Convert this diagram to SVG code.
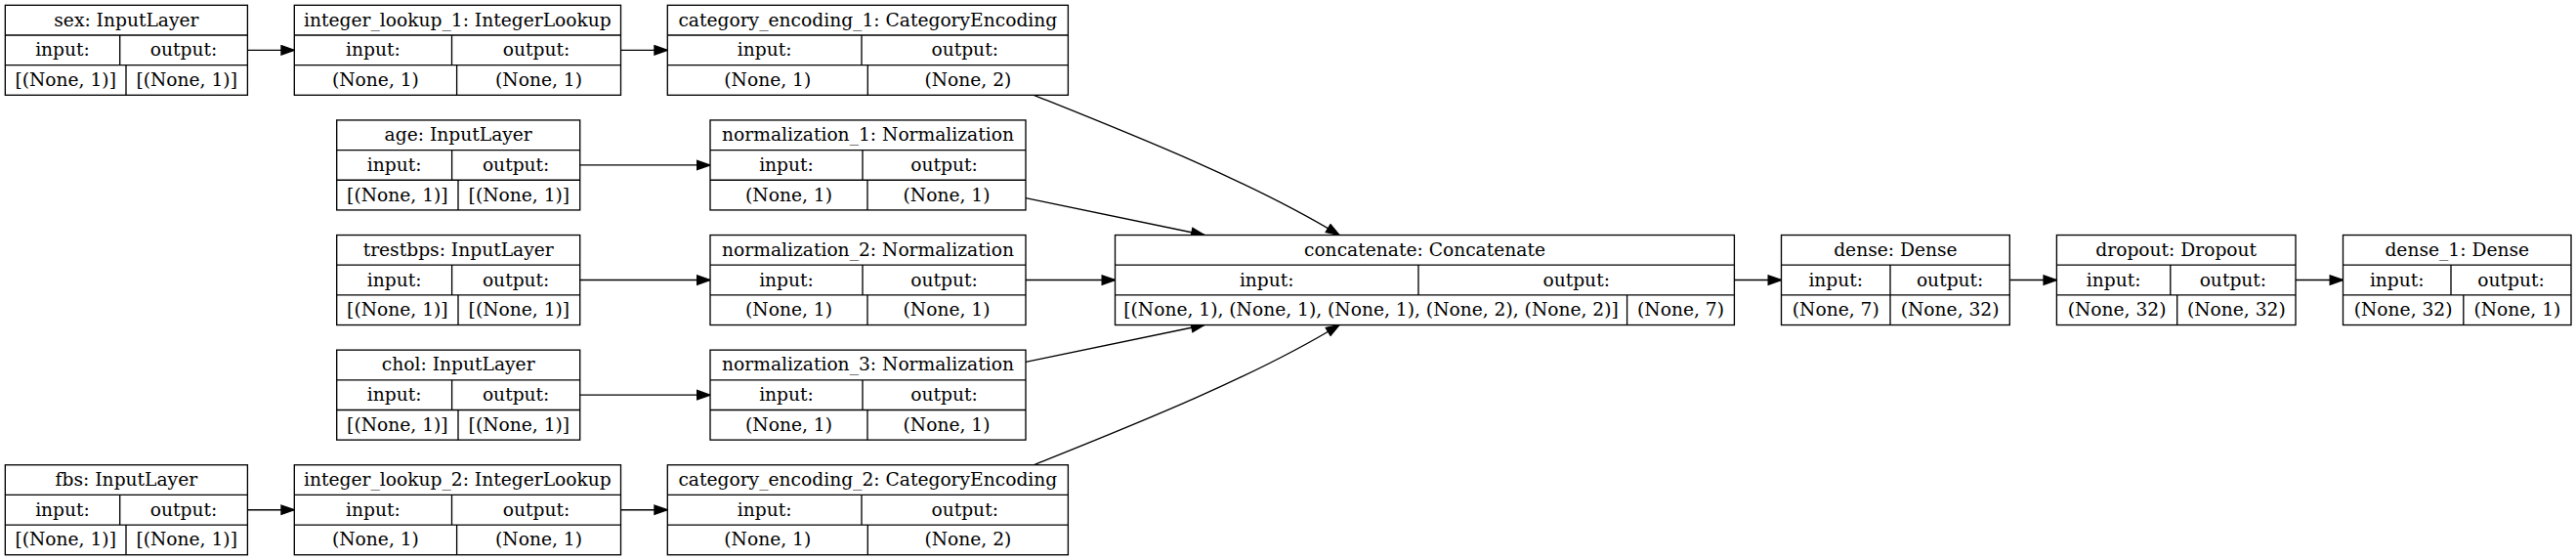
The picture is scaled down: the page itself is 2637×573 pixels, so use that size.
<svg xmlns="http://www.w3.org/2000/svg" width="2637" height="573" viewBox="0 0 2637 573">
<style>
.bg{fill:#fff}
.box{fill:#fff;stroke:#000;stroke-width:1.33}
.ln{stroke:#000;stroke-width:1.33;fill:none}
.t{font-family:"DejaVu Serif",serif;font-size:18.67px;text-anchor:middle;fill:#000}
.e{stroke:#000;stroke-width:1.33;fill:none;marker-end:url(#arr)}
</style>
<defs>
<marker id="arr" markerUnits="userSpaceOnUse" markerWidth="16" markerHeight="12" refX="13.33" refY="4.67" orient="auto" viewBox="-1 -1 16 12">
<path d="M0,0 L13.33,4.67 L0,9.33 z" fill="#000" stroke="#000" stroke-width="1.33"/>
</marker>
</defs>
<rect class="bg" x="0" y="0" width="2637" height="573"/>

<g id="connectors">
<path class="e" d="M253.4,51.33 H301.3"/>
<path class="e" d="M635.5,51.33 H683.3"/>
<path class="e" d="M593.7,168.93 H727"/>
<path class="e" d="M593.7,286.53 H727"/>
<path class="e" d="M593.7,404.13 H727"/>
<path class="e" d="M253.4,521.73 H301.3"/>
<path class="e" d="M635.5,521.73 H683.3"/>
<path class="e" d="M1050,286.53 H1141.5"/>
<path class="e" d="M1775.4,286.53 H1823.5"/>
<path class="e" d="M2057.3,286.53 H2105.4"/>
<path class="e" d="M2350,286.53 H2398.5"/>
<path class="e" d="M1058.3,97.3 C1150,134 1280,185 1371,240.5"/>
<path class="e" d="M1050,202.7 L1233,240.5"/>
<path class="e" d="M1050,370.4 L1233,332.5"/>
<path class="e" d="M1058.3,475.8 C1150,439 1280,388 1371,332.5"/>
</g>

<g id="sex">
<rect class="box" x="5.33" y="5.33" width="248.07" height="92"/>
<path class="ln" d="M5.33,36 H253.4 M5.33,66.67 H253.4 M122.7,36 V66.67 M129,66.67 V97.33"/>
<text class="t" x="129.37" y="26.6">sex: InputLayer</text>
<text class="t" x="64" y="57.3">input:</text>
<text class="t" x="188.05" y="57.3">output:</text>
<text class="t" x="67.2" y="88">[(None, 1)]</text>
<text class="t" x="191.2" y="88">[(None, 1)]</text>
</g>

<g id="integer_lookup_1">
<rect class="box" x="301.3" y="5.33" width="334.2" height="92"/>
<path class="ln" d="M301.3,36 H635.5 M301.3,66.67 H635.5 M462.5,36 V66.67 M467.6,66.67 V97.33"/>
<text class="t" x="468.4" y="26.6">integer_lookup_1: IntegerLookup</text>
<text class="t" x="381.9" y="57.3">input:</text>
<text class="t" x="549" y="57.3">output:</text>
<text class="t" x="384.45" y="88">(None, 1)</text>
<text class="t" x="551.55" y="88">(None, 1)</text>
</g>

<g id="category_encoding_1">
<rect class="box" x="683.3" y="5.33" width="410.1" height="92"/>
<path class="ln" d="M683.3,36 H1093.4 M683.3,66.67 H1093.4 M882,36 V66.67 M888.3,66.67 V97.33"/>
<text class="t" x="888.35" y="26.6">category_encoding_1: CategoryEncoding</text>
<text class="t" x="782.65" y="57.3">input:</text>
<text class="t" x="987.7" y="57.3">output:</text>
<text class="t" x="785.8" y="88">(None, 1)</text>
<text class="t" x="990.85" y="88">(None, 2)</text>
</g>

<g id="age">
<rect class="box" x="344.7" y="122.93" width="249" height="92"/>
<path class="ln" d="M344.7,153.6 H593.7 M344.7,184.27 H593.7 M462.6,153.6 V184.27 M469,184.27 V214.93"/>
<text class="t" x="469.2" y="144.2">age: InputLayer</text>
<text class="t" x="403.65" y="174.9">input:</text>
<text class="t" x="528.15" y="174.9">output:</text>
<text class="t" x="406.85" y="205.6">[(None, 1)]</text>
<text class="t" x="531.35" y="205.6">[(None, 1)]</text>
</g>

<g id="normalization_1">
<rect class="box" x="727" y="122.93" width="323" height="92"/>
<path class="ln" d="M727,153.6 H1050 M727,184.27 H1050 M883,153.6 V184.27 M888,184.27 V214.93"/>
<text class="t" x="888.5" y="144.2">normalization_1: Normalization</text>
<text class="t" x="805" y="174.9">input:</text>
<text class="t" x="966.5" y="174.9">output:</text>
<text class="t" x="807.5" y="205.6">(None, 1)</text>
<text class="t" x="969" y="205.6">(None, 1)</text>
</g>

<g id="trestbps">
<rect class="box" x="344.7" y="240.53" width="249" height="92"/>
<path class="ln" d="M344.7,271.2 H593.7 M344.7,301.87 H593.7 M462.6,271.2 V301.87 M469,301.87 V332.53"/>
<text class="t" x="469.2" y="261.8">trestbps: InputLayer</text>
<text class="t" x="403.65" y="292.5">input:</text>
<text class="t" x="528.15" y="292.5">output:</text>
<text class="t" x="406.85" y="323.2">[(None, 1)]</text>
<text class="t" x="531.35" y="323.2">[(None, 1)]</text>
</g>

<g id="normalization_2">
<rect class="box" x="727" y="240.53" width="323" height="92"/>
<path class="ln" d="M727,271.2 H1050 M727,301.87 H1050 M883,271.2 V301.87 M888,301.87 V332.53"/>
<text class="t" x="888.5" y="261.8">normalization_2: Normalization</text>
<text class="t" x="805" y="292.5">input:</text>
<text class="t" x="966.5" y="292.5">output:</text>
<text class="t" x="807.5" y="323.2">(None, 1)</text>
<text class="t" x="969" y="323.2">(None, 1)</text>
</g>

<g id="chol">
<rect class="box" x="344.7" y="358.13" width="249" height="92"/>
<path class="ln" d="M344.7,388.8 H593.7 M344.7,419.47 H593.7 M462.6,388.8 V419.47 M469,419.47 V450.13"/>
<text class="t" x="469.2" y="379.4">chol: InputLayer</text>
<text class="t" x="403.65" y="410.1">input:</text>
<text class="t" x="528.15" y="410.1">output:</text>
<text class="t" x="406.85" y="440.8">[(None, 1)]</text>
<text class="t" x="531.35" y="440.8">[(None, 1)]</text>
</g>

<g id="normalization_3">
<rect class="box" x="727" y="358.13" width="323" height="92"/>
<path class="ln" d="M727,388.8 H1050 M727,419.47 H1050 M883,388.8 V419.47 M888,419.47 V450.13"/>
<text class="t" x="888.5" y="379.4">normalization_3: Normalization</text>
<text class="t" x="805" y="410.1">input:</text>
<text class="t" x="966.5" y="410.1">output:</text>
<text class="t" x="807.5" y="440.8">(None, 1)</text>
<text class="t" x="969" y="440.8">(None, 1)</text>
</g>

<g id="fbs">
<rect class="box" x="5.33" y="475.73" width="248.07" height="92"/>
<path class="ln" d="M5.33,506.4 H253.4 M5.33,537.07 H253.4 M122.7,506.4 V537.07 M129,537.07 V567.73"/>
<text class="t" x="129.37" y="497">fbs: InputLayer</text>
<text class="t" x="64" y="527.7">input:</text>
<text class="t" x="188.05" y="527.7">output:</text>
<text class="t" x="67.2" y="558.4">[(None, 1)]</text>
<text class="t" x="191.2" y="558.4">[(None, 1)]</text>
</g>

<g id="integer_lookup_2">
<rect class="box" x="301.3" y="475.73" width="334.2" height="92"/>
<path class="ln" d="M301.3,506.4 H635.5 M301.3,537.07 H635.5 M462.5,506.4 V537.07 M467.6,537.07 V567.73"/>
<text class="t" x="468.4" y="497">integer_lookup_2: IntegerLookup</text>
<text class="t" x="381.9" y="527.7">input:</text>
<text class="t" x="549" y="527.7">output:</text>
<text class="t" x="384.45" y="558.4">(None, 1)</text>
<text class="t" x="551.55" y="558.4">(None, 1)</text>
</g>

<g id="category_encoding_2">
<rect class="box" x="683.3" y="475.73" width="410.1" height="92"/>
<path class="ln" d="M683.3,506.4 H1093.4 M683.3,537.07 H1093.4 M882,506.4 V537.07 M888.3,537.07 V567.73"/>
<text class="t" x="888.35" y="497">category_encoding_2: CategoryEncoding</text>
<text class="t" x="782.65" y="527.7">input:</text>
<text class="t" x="987.7" y="527.7">output:</text>
<text class="t" x="785.8" y="558.4">(None, 1)</text>
<text class="t" x="990.85" y="558.4">(None, 2)</text>
</g>

<g id="concatenate">
<rect class="box" x="1141.5" y="240.53" width="633.9" height="92"/>
<path class="ln" d="M1141.5,271.2 H1775.4 M1141.5,301.87 H1775.4 M1452,271.2 V301.87 M1665.6,301.87 V332.53"/>
<text class="t" x="1458.45" y="261.8">concatenate: Concatenate</text>
<text class="t" x="1296.75" y="292.5">input:</text>
<text class="t" x="1613.7" y="292.5">output:</text>
<text class="t" x="1403.55" y="323.2">[(None, 1), (None, 1), (None, 1), (None, 2), (None, 2)]</text>
<text class="t" x="1720.5" y="323.2">(None, 7)</text>
</g>

<g id="dense">
<rect class="box" x="1823.5" y="240.53" width="233.8" height="92"/>
<path class="ln" d="M1823.5,271.2 H2057.3 M1823.5,301.87 H2057.3 M1935,271.2 V332.53"/>
<text class="t" x="1940.4" y="261.8">dense: Dense</text>
<text class="t" x="1879.25" y="292.5">input:</text>
<text class="t" x="1996.15" y="292.5">output:</text>
<text class="t" x="1879.25" y="323.2">(None, 7)</text>
<text class="t" x="1996.15" y="323.2">(None, 32)</text>
</g>

<g id="dropout">
<rect class="box" x="2105.4" y="240.53" width="244.6" height="92"/>
<path class="ln" d="M2105.4,271.2 H2350 M2105.4,301.87 H2350 M2221.8,271.2 V301.87 M2228.7,301.87 V332.53"/>
<text class="t" x="2227.7" y="261.8">dropout: Dropout</text>
<text class="t" x="2163.6" y="292.5">input:</text>
<text class="t" x="2285.9" y="292.5">output:</text>
<text class="t" x="2167.05" y="323.2">(None, 32)</text>
<text class="t" x="2289.35" y="323.2">(None, 32)</text>
</g>

<g id="dense_1">
<rect class="box" x="2398.5" y="240.53" width="233.5" height="92"/>
<path class="ln" d="M2398.5,271.2 H2632 M2398.5,301.87 H2632 M2509,271.2 V301.87 M2521.8,301.87 V332.53"/>
<text class="t" x="2515.25" y="261.8">dense_1: Dense</text>
<text class="t" x="2453.75" y="292.5">input:</text>
<text class="t" x="2570.5" y="292.5">output:</text>
<text class="t" x="2460.15" y="323.2">(None, 32)</text>
<text class="t" x="2576.9" y="323.2">(None, 1)</text>
</g>
</svg>
